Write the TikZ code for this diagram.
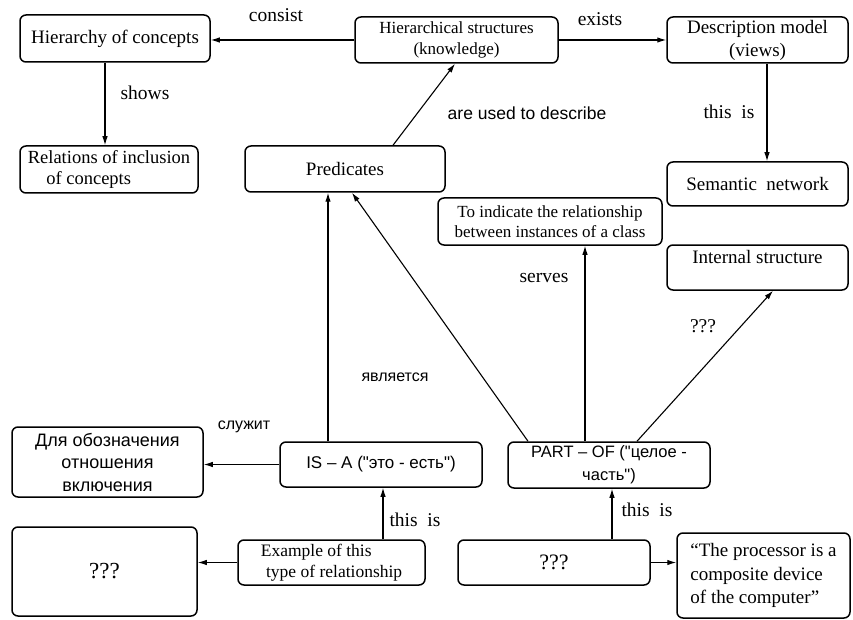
\documentclass[tikz,border=0pt]{standalone}
\usepackage{fontspec}
\setmainfont{Liberation Serif}
\newfontfamily\arfont{Liberation Sans}
\usetikzlibrary{arrows.meta,calc}
\begin{document}
\begin{tikzpicture}[x=1pt,y=-1pt,
  box/.style={draw, line width=1.5pt, rounded corners=6pt, inner sep=0pt, align=center},
  arr/.style={line width=1.1pt, -{Latex[length=9pt,width=5.5pt]}},
  ser/.style={font=\fontsize{19}{22}\selectfont},
  sers/.style={font=\fontsize{17}{20.5}\selectfont},
  sans/.style={font=\arfont\fontsize{17}{22}\selectfont},
  lbl/.style={inner sep=0pt, font=\fontsize{19.5}{22}\selectfont}
]
\useasboundingbox (0,0) rectangle (853,620);
\fill[white] (0,0) rectangle (853,620);

% boxes
\node[box, ser, minimum width=190pt, minimum height=47pt] (hc) at (115,38.5) {Hierarchy of concepts};
\node[box, font=\fontsize{17}{21}\selectfont, minimum width=203pt, minimum height=46pt] (hs) at (456.5,40) {Hierarchical structures\\(knowledge)};
\node[box, font=\fontsize{19}{23}\selectfont, minimum width=181pt, minimum height=46pt] (dm) at (757.5,40) {Description model\\(views)};
\node[box, align=left, font=\fontsize{18.5}{21.5}\selectfont, minimum width=178pt, minimum height=47pt] (ric) at (109,169.5) {Relations of inclusion\\\hspace*{1em}of concepts};
\node[box, ser, minimum width=200pt, minimum height=46pt] (pred) at (345,169) {Predicates};
\node[box, ser, minimum width=181pt, minimum height=44pt] (sn) at (757.5,184) {Semantic\ \ network};
\node[box, sers, minimum width=224pt, minimum height=47pt] (ti) at (550,221.5) {To indicate the relationship\\between instances of a class};
\node[box, ser, text depth=22pt, minimum width=181pt, minimum height=45pt] (ins) at (757.5,267.5) {Internal structure};
\node[box, sans, minimum width=202pt, minimum height=45pt] (isa) at (381,464.5) {IS – A ("это - есть")};
\node[box, minimum width=202pt, minimum height=46pt, font=\arfont\fontsize{16.5}{23}\selectfont] (po) at (609,465) {PART – OF ("целое -\\часть")};
\node[box, minimum width=191pt, minimum height=70pt, font=\arfont\fontsize{18}{22.5}\selectfont] (dl) at (107.5,462) {Для обозначения\\отношения\\включения};
\node[box, minimum width=185pt, minimum height=89pt, font=\fontsize{23}{24}\selectfont] (q1) at (104.5,571.5) {???};
\node[box, align=left, minimum width=187pt, minimum height=45pt, font=\fontsize{17.5}{21}\selectfont] (ex) at (331.5,562.5) {Example of this\\\hspace*{0.3em}type of relationship};
\node[box, minimum width=192pt, minimum height=45pt, font=\fontsize{22}{24}\selectfont] (q2) at (554,562.5) {???};
\node[box, align=left, minimum width=173pt, minimum height=85pt, font=\fontsize{19}{23.5}\selectfont] (pr) at (763.5,575.5) {“The processor is a\\composite device\\of the computer”};

% connectors
\draw[arr] (hs.west) -- (hs.west -| hc.east);
\draw[arr] (hs.east) -- (hs.east -| dm.west);
\draw[arr] ([xshift=-10pt]hc.south) -- ([xshift=-10pt]hc.south |- ric.north);
\draw[arr] ([xshift=9.5pt]dm.south) -- ([xshift=9.5pt]dm.south |- sn.north);
\draw[arr] ([xshift=48pt]pred.north) -- ([xshift=-1.5pt]hs.south);
\draw[arr] ([xshift=-53pt]isa.north) -- ([xshift=-53pt]isa.north |- pred.south);
\draw[arr] ([xshift=-81pt]po.north) -- ([xshift=7pt]pred.south);
\draw[arr] ([xshift=-24pt]po.north) -- ([xshift=-24pt]po.north |- ti.south);
\draw[arr] ([xshift=28pt]po.north) -- ([xshift=15.5pt]ins.south);
\draw[arr] (isa.west) -- (isa.west -| dl.east);
\draw[arr] (ex.west) -- (ex.west -| q1.east);
\draw[arr] ([xshift=51.5pt]ex.north) -- ([xshift=51.5pt]ex.north |- isa.south);
\draw[arr] ([xshift=58pt]q2.north) -- ([xshift=58pt]q2.north |- po.south);
\draw[arr] (q2.east) -- (q2.east -| pr.west);

% labels
\node[lbl] (l1) at (276,15) {consist};
\node[lbl] (l2) at (600,19) {exists};
\node[lbl] (l3) at (145,93) {shows};
\node[lbl] (l4) at (729,112) {this\ \ is};
\node[lbl, font=\arfont\fontsize{17.5}{20}\selectfont] (l5) at (527,113) {are used to describe};
\node[lbl] (l6) at (544,278) {serves};
\node[lbl] (l7) at (703,326) {???};
\node[lbl, font=\arfont\fontsize{16}{20}\selectfont] (l8) at (395,377) {является};
\node[lbl, font=\arfont\fontsize{16}{20}\selectfont] (l9) at (244,427) {служит};
\node[lbl] (l10) at (415,520) {this\ \ is};
\node[lbl] (l11) at (647,510) {this\ \ is};
\end{tikzpicture}
\end{document}
